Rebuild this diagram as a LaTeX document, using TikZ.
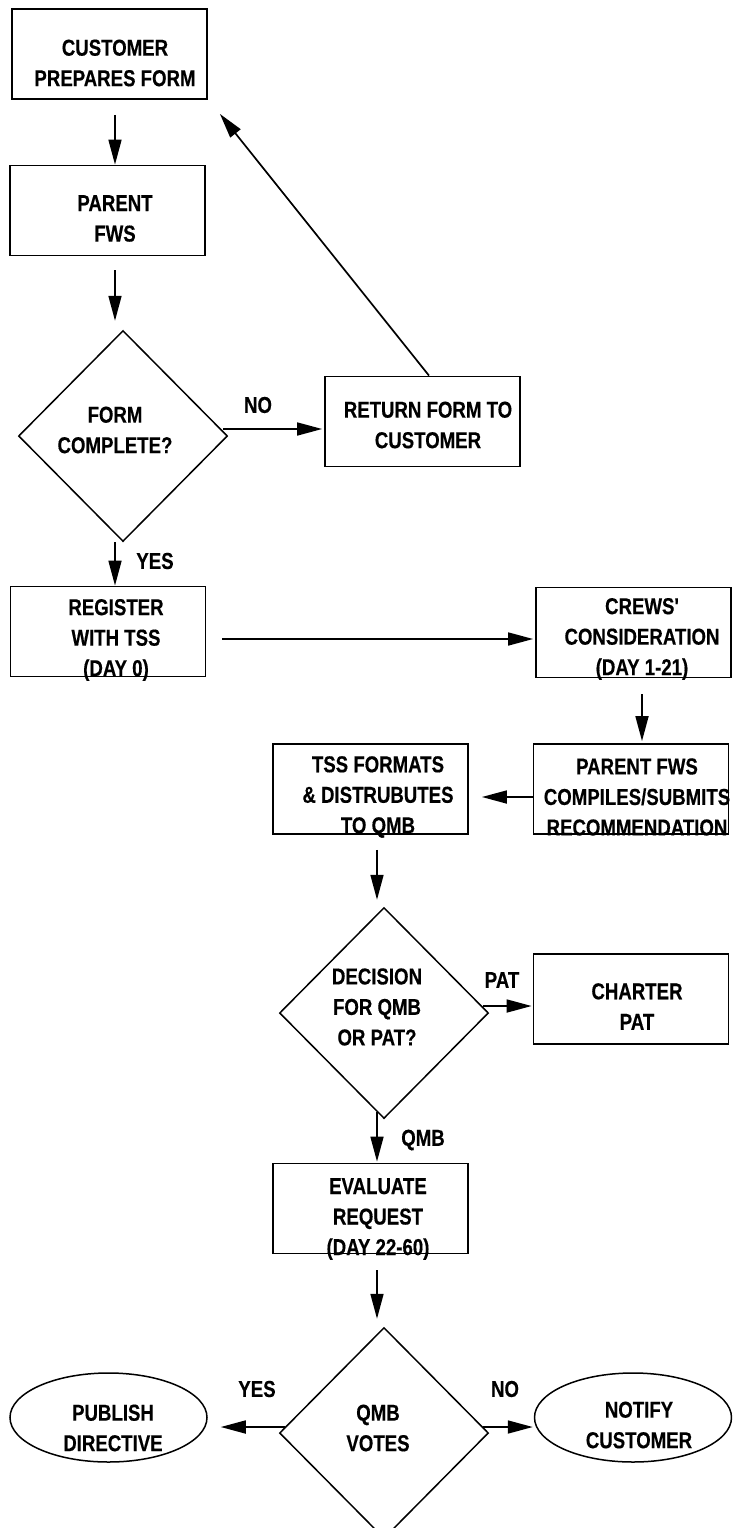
\documentclass[tikz,border=0pt]{standalone}
\usepackage{fontspec}
\newfontfamily\chartfont{Liberation Sans}[FakeStretch=0.81,BoldFeatures={FakeBold=0.4}]
\usetikzlibrary{shapes.geometric,arrows.meta,calc}

\begin{document}
\begin{tikzpicture}[x=1pt,y=-1pt,
  box/.style={draw,line width=1.8pt,rectangle,inner sep=0pt,minimum width=195pt,minimum height=90pt},
  decision/.style={draw,line width=1.5pt,diamond,inner sep=0pt,minimum width=209pt,minimum height=211pt},
  terminal/.style={draw,line width=1.5pt,ellipse,inner sep=0pt,minimum width=197pt,minimum height=89pt},
  txt/.style={align=center,inner sep=0pt,font=\chartfont\bfseries\fontsize{23}{30.5}\selectfont},
  arr/.style={line width=1.7pt,-{Triangle[length=25pt,width=13pt]}}]
\useasboundingbox (0,0) rectangle (732,1528);
\clip (0,0) rectangle (732,1528);

% boxes, diamonds and ellipses
\node[box] (cust) at (109.5,54) {};
\node[box] (parent) at (107.5,210.5) {};
\node[decision] (form) at (123,436) {};
\node[box] (ret) at (422.5,421.5) {};
\node[box] (reg) at (108,631.5) {};
\node[box] (crews) at (633.5,632.5) {};
\node[box] (tss) at (370.5,789) {};
\node[box] (pfws) at (631,789) {};
\node[decision] (dec) at (384,1013) {};
\node[box] (charter) at (631,999) {};
\node[box] (eval) at (370.5,1208.5) {};
\node[decision] (votes) at (384,1433) {};
\node[terminal] (publish) at (108.5,1417.5) {};
\node[terminal] (notify) at (633,1417.5) {};

% texts
\node[txt] (custtxt) at (115,63) {CUSTOMER\\PREPARES FORM};
\node[txt] (parenttxt) at (115,218.5) {PARENT\\FWS};
\node[txt] (formtxt) at (115,430) {FORM\\COMPLETE?};
\node[txt] (rettxt) at (428,425) {RETURN FORM TO\\CUSTOMER};
\node[txt] (regtxt) at (116,640) {REGISTER\\WITH TSS\\(DAY 0)};
\node[txt] (crewstxt) at (642,639) {CREWS'\\CONSIDERATION\\(DAY 1-21)};
\node[txt] (tsstxt) at (378,797) {TSS FORMATS\\\& DISTRUBUTES\\TO QMB};
\node[txt] (pfwstxt) at (637,797) {PARENT FWS\\COMPILES/SUBMITS\\RECOMMENDATION};
\node[txt] (dectxt) at (377,1007) {DECISION\\FOR QMB\\OR PAT?};
\node[txt] (chartertxt) at (637,1006.5) {CHARTER\\PAT};
\node[txt] (evaltxt) at (378,1219) {EVALUATE\\REQUEST\\(DAY 22-60)};
\node[txt] (votestxt) at (378,1428) {QMB\\VOTES};
\node[txt] (publishtxt) at (113,1428) {PUBLISH\\DIRECTIVE};
\node[txt] (notifytxt) at (639,1425) {NOTIFY\\CUSTOMER};

% branch labels
\node[txt] (nolbl) at (258,405) {NO};
\node[txt] (yeslbl) at (155,561) {YES};
\node[txt] (patlbl) at (502,980) {PAT};
\node[txt] (qmblbl) at (423,1140) {QMB};
\node[txt] (yesvote) at (257,1389) {YES};
\node[txt] (novote) at (505,1389) {NO};

% arrows
\draw[arr] ($(cust.south)+(5.5,15)$) -- ($(parent.north)+(7.5,0)$);
\draw[arr] ($(parent.south)+(7.5,14)$) -- ($(form.north)+(-8,-9)$);
\draw[arr] ($(form.east)+(-5,-7)$) -- ($(ret.west)+(-2,7.5)$);
\draw[arr] ($(ret.north)+(6.5,0)$) -- ($(cust.south east)+(12,14)$);
\draw[arr] ($(form.south)+(-8,0)$) -- ($(reg.north)+(7,0)$);
\draw[arr] ($(reg.east)+(16,7.5)$) -- ($(crews.west)+(-2,6.5)$);
\draw[arr] ($(crews.south)+(8.5,16)$) -- ($(pfws.north)+(11,-2)$);
\draw[arr] ($(pfws.west)+(0,8)$) -- ($(tss.east)+(13,8)$);
\draw[arr] ($(tss.south)+(6.5,15)$) -- ($(dec.north)+(-7,-7)$);
\draw[arr] ($(dec.east)+(-6,-7)$) -- ($(charter.west)+(-1,7)$);
\draw[arr] ($(dec.south)+(-7,-7)$) -- ($(eval.north)+(6.5,-1)$);
\draw[arr] ($(eval.south)+(6.5,16)$) -- ($(votes.north)+(-7,-8)$);
\draw[arr] ($(votes.west)+(6.5,-6)$) -- ($(publish.east)+(13,9.5)$);
\draw[arr] ($(votes.east)+(-6.5,-6)$) -- ($(notify.west)+(-1,9.5)$);

\end{tikzpicture}
\end{document}
